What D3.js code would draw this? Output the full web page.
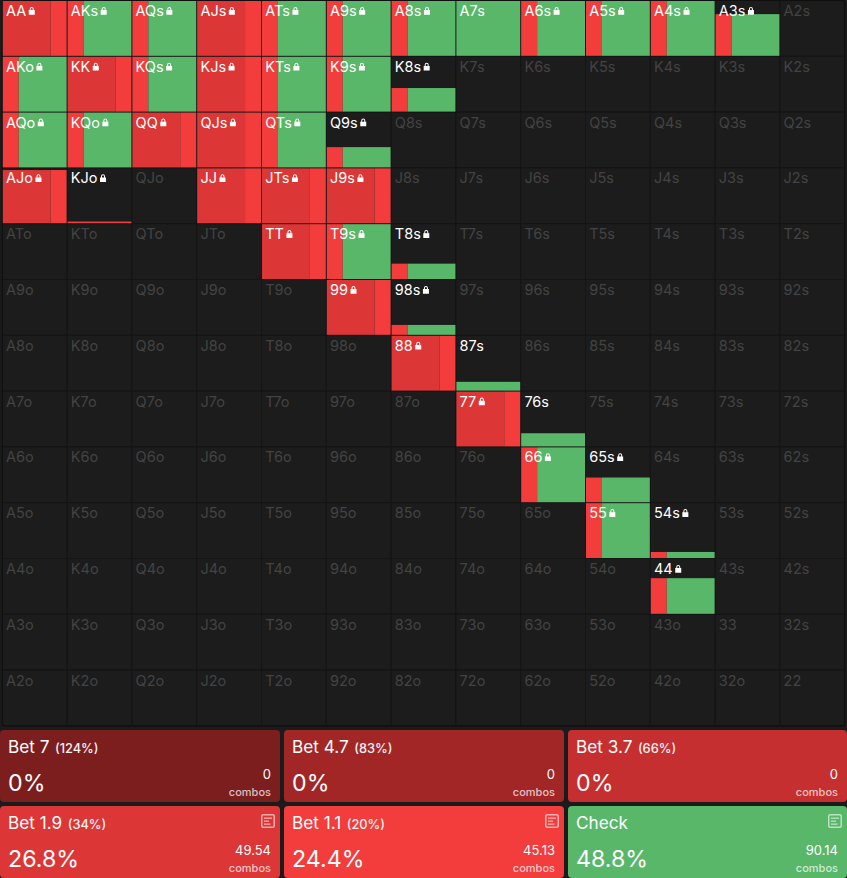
<!DOCTYPE html>
<html><head><meta charset="utf-8">
<script src="https://cdn.jsdelivr.net/npm/d3@7"></script>
<style>html,body{margin:0;padding:0;background:#1b1b1b;overflow:hidden}svg{display:block}text{font-family:Inter,"Noto Sans",sans-serif}</style>
</head><body><svg id="c" width="847" height="878"></svg>
<script>
const ranks = ["A","K","Q","J","T","9","8","7","6","5","4","3","2"];
const handNames = ["AA","AKs","AQs","AJs","ATs","A9s","A8s","A7s","A6s","A5s","A4s","A3s","AKo","KK","KQs","KJs","KTs","K9s","K8s","AQo","KQo","QQ","QJs","QTs","Q9s","AJo","KJo","JJ","JTs","J9s","TT","T9s","T8s","99","98s","88","87s","77","76s","66","65s","55","54s","44"];
const handWeights = [1,1,1,1,1,1,1,1,1,1,1,.76,1,1,1,1,1,1,.43,1,1,1,1,1,.37,.97,.03,1,1,1,1,1,.28,1,.18,1,.16,1,.24,1,.45,1,.11,.65];
const handDark =    [75,0,0,75,0,0,0,0,0,0,0,0,0,75,0,75,0,0,0,0,0,75,75,0,0,75,0,75,75,75,75,0,0,75,0,75,0,75,0,0,0,0,0,0];
const handBright =  [25,25,25,25,25,25,25,0,25,25,25,25,25,25,25,25,25,25,25,25,25,25,25,25,25,25,100,25,25,25,25,25,25,25,25,25,0,25,0,25,25,25,25,25];
const handGreen =   [0,75,75,0,75,75,75,100,75,75,75,75,75,0,75,0,75,75,75,75,75,0,0,75,75,0,0,0,0,0,0,75,75,0,75,0,100,0,100,75,75,75,75,75];
const locked = ["AA","AKs","AQs","AJs","ATs","A9s","A8s","A6s","A5s","A4s","A3s","AKo","KK","KQs","KJs","KTs","K9s","K8s","AQo","KQo","QQ","QJs","QTs","Q9s","AJo","KJo","JJ","JTs","J9s","TT","T9s","T8s","99","98s","88","77","66","65s","55","54s","44"];
const actions = ["Bet 7","Bet 4.7","Bet 3.7","Bet 1.9","Bet 1.1","Check"];
const sizes = ["(124%)","(83%)","(66%)","(34%)","(20%)",""];
const freqs = ["0%","0%","0%","26.8%","24.4%","48.8%"];
const combos = ["0","0","0","49.54","45.13","90.14"];
const actionColors = ["#7c1e1e","#a32626","#c62f2f","#dc3636","#f33c3c","#59b76a"];
const hasIcon = [false,false,false,true,true,true];

const DARK="#dc3636",BRIGHT="#f33c3c",GREEN="#59b76a",BG="#1c1c1c",LINE="#151515";
const svg=d3.select("#c");
const x=d3.scaleBand().domain(ranks).range([2.3,844.7]);
const y=d3.scaleBand().domain(ranks).range([0.5,725.9]);
const share=d3.scaleLinear().domain([0,100]).range([0,1]);
const label=(r,c)=>{const a=ranks[r],b=ranks[c];return r===c?a+b:(c>r?a+b+"s":b+a+"o");};
const cells=[];
ranks.forEach((_,r)=>ranks.forEach((_,c)=>cells.push({r,c,name:label(r,c)})));
const idx=new Map(handNames.map((n,i)=>[n,i]));
const lockSet=new Set(locked);

const g=svg.append("g");
g.selectAll("rect.cell").data(cells).join("rect").attr("class","cell")
 .attr("x",d=>x(ranks[d.c])).attr("y",d=>y(ranks[d.r])).attr("width",x.bandwidth()).attr("height",y.bandwidth())
 .attr("fill",BG).attr("stroke",LINE).attr("stroke-width",1);
g.append("rect").attr("x",x.range()[0]).attr("y",y.range()[0]).attr("width",x.range()[1]-x.range()[0]).attr("height",y.range()[1]-y.range()[0])
 .attr("rx",3).attr("fill","none").attr("stroke","#0f0f0f").attr("stroke-width",1);

const lockPath="M-2,-1 V-2.2 A2,2 0 0 1 2,-2.2 V-1 H3 V3.6 H-3 V-1 Z M-1,-1 H1 V-2.2 A1,1 0 0 0 -1,-2.2 Z";
cells.forEach(d=>{
  const X=x(ranks[d.c]),Y=y(ranks[d.r]),W=x.bandwidth(),H=y.bandwidth();
  const i=idx.get(d.name);
  const cg=g.append("g");
  if(i!==undefined){
    const h=(H-1)*handWeights[i],top=Y+H-0.5-h;
    let cx=X+0.5;
    const iw=W-1;
    [[handDark[i],DARK],[handBright[i],BRIGHT],[handGreen[i],GREEN]].forEach(([v,col])=>{
      if(v>0){const w=iw*share(v);cg.append("rect").attr("x",cx).attr("y",top).attr("width",w).attr("height",h).attr("fill",col);cx+=w;}
    });
  }
  const active=i!==undefined;
  const t=cg.append("text").attr("x",X+3.7).attr("y",Y+15.4).attr("font-size",14.5)
    .attr("fill",active?"#ffffff":"#434343").text(d.name);
  if(lockSet.has(d.name)){
    const w=t.node().getComputedTextLength();
    cg.append("path").attr("transform",`translate(${X+3.7+w+5.5},${Y+10.6})`).attr("d",lockPath).attr("fill","#ffffff").attr("fill-rule","evenodd");
  }
});

const cardX=[0,284,568],cardW=[280,280,279],cardY=[730,806],cardH=72;
actions.forEach((a,i)=>{
  const col=i%3,row=Math.floor(i/3),X=cardX[col],Y=cardY[row],W=cardW[col];
  const c=svg.append("g").attr("transform",`translate(${X},${Y})`);
  c.append("rect").attr("width",W).attr("height",cardH).attr("rx",4).attr("fill",actionColors[i]);
  const t=c.append("text").attr("x",8).attr("y",23).attr("font-size",17.2).attr("fill","#fff");
  t.append("tspan").text(a);
  if(sizes[i]) t.append("tspan").attr("font-size",12.8).attr("dx",5.5).attr("font-weight",500).attr("fill","#f2f2f2").text(sizes[i]);
  c.append("text").attr("x",8).attr("y",61).attr("font-size",23.2).attr("fill","#fff").text(freqs[i]);
  c.append("text").attr("x",W-9).attr("y",49).attr("font-size",13).attr("text-anchor","end").attr("fill","#fff").text(combos[i]);
  c.append("text").attr("x",W-9).attr("y",66).attr("font-size",11).attr("font-weight",500).attr("text-anchor","end").attr("fill","rgba(255,255,255,.72)").text("combos");
  if(hasIcon[i]){
    const ic=c.append("g").attr("transform",`translate(${W-19},8)`).attr("opacity",.6);
    ic.append("rect").attr("x",.75).attr("y",.75).attr("width",12.5).attr("height",12.5).attr("rx",1.5).attr("fill","none").attr("stroke","#fff").attr("stroke-width",1.5);
    [[3,3.5,8],[3,6.5,5],[3,9.5,6.5]].forEach(([a,b,l])=>ic.append("rect").attr("x",a).attr("y",b).attr("width",l).attr("height",1.3).attr("fill","#fff"));
  }
});
</script></body></html>
